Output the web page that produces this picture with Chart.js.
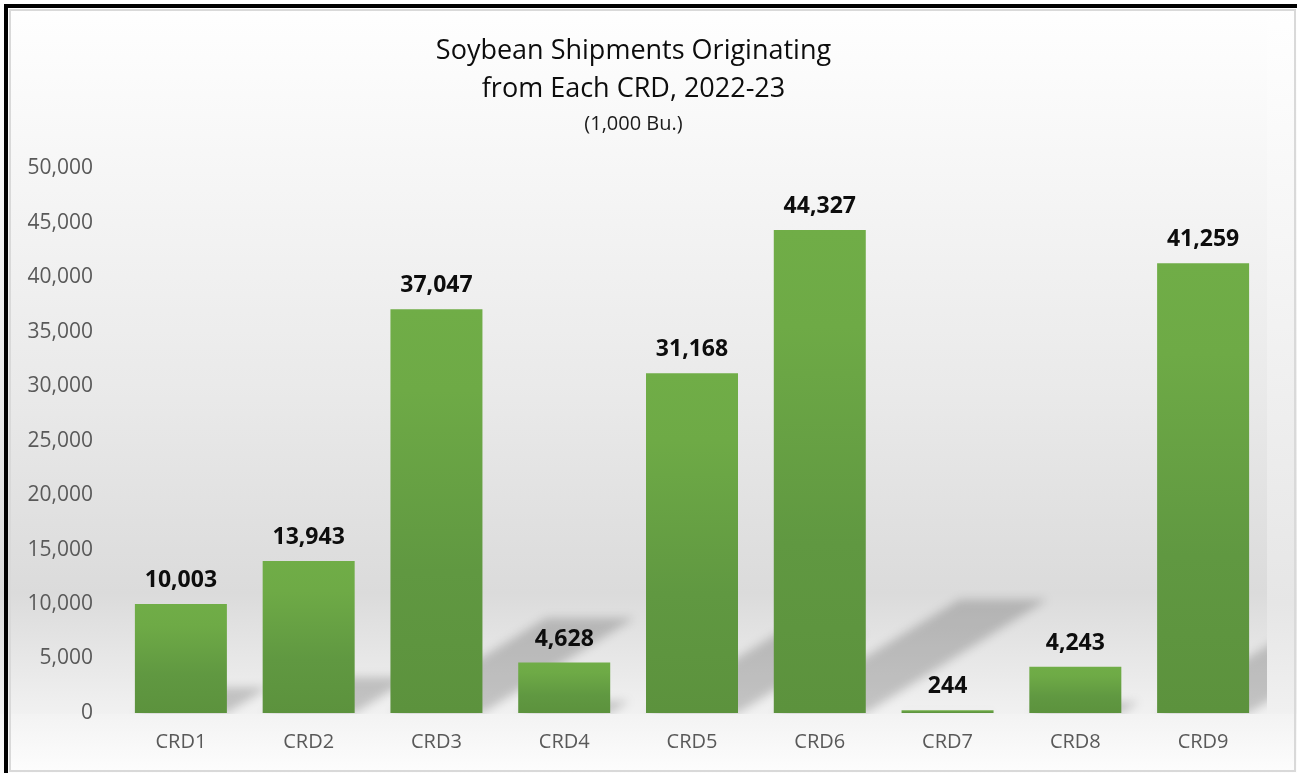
<!DOCTYPE html>
<html>
<head>
<meta charset="utf-8">
<script src="https://cdn.jsdelivr.net/npm/chart.js@4/dist/chart.umd.min.js"></script>
<style>
  body { margin: 0; background: #fff; }
</style>
</head>
<body>
<canvas id="myChart" width="1297" height="773"></canvas>
<script>
var categories = ['CRD1', 'CRD2', 'CRD3', 'CRD4', 'CRD5', 'CRD6', 'CRD7', 'CRD8', 'CRD9'];
var shipments = [10003, 13943, 37047, 4628, 31168, 44327, 244, 4243, 41259];
var yMax = 50000;
var yStep = 5000;

var titleLines = ['Soybean Shipments Originating', 'from Each CRD, 2022-23'];
var unitsLine = '(1,000 Bu.)';

function fmt(v) {
  return Number(v).toLocaleString('en-US');
}

// page background + frame
var backdrop = {
  id: 'backdrop',
  beforeDraw: function (chart) {
    var ctx = chart.ctx, W = chart.width, H = chart.height;
    var plotRight = chart.chartArea.right, plotBottom = chart.chartArea.bottom + 1;
    ctx.save();
    var outer = ctx.createLinearGradient(0, 0, 0, H);
    outer.addColorStop(0, '#ffffff');
    outer.addColorStop(0.3, '#f6f6f6');
    outer.addColorStop(0.78, '#e6e6e6');
    outer.addColorStop(0.92, '#f0f0f0');
    outer.addColorStop(1, '#ffffff');
    ctx.fillStyle = outer;
    ctx.fillRect(0, 0, W, H);

    var inner = ctx.createLinearGradient(0, 0, 0, plotBottom);
    inner.addColorStop(0, '#ffffff');
    inner.addColorStop(0.24, '#f6f6f6');
    inner.addColorStop(0.56, '#e9e9e9');
    inner.addColorStop(0.83, '#dbdbdb');
    inner.addColorStop(1, '#f1f1f1');
    ctx.fillStyle = inner;
    ctx.fillRect(0, 0, plotRight, plotBottom);

    var below = ctx.createLinearGradient(0, plotBottom, 0, H);
    below.addColorStop(0, '#f3f3f3');
    below.addColorStop(1, '#fdfdfd');
    ctx.fillStyle = below;
    ctx.fillRect(0, plotBottom, W, H - plotBottom);

    ctx.strokeStyle = '#d9d9d9';
    ctx.lineWidth = 2;
    ctx.strokeRect(10, 10, W - 12, H - 12);
    ctx.fillStyle = '#000';
    ctx.fillRect(4, 4, W - 4, 4);
    ctx.fillRect(4, 4, 4, H - 4);
    ctx.restore();
  }
};

// slanted soft shadows falling behind the bars
var barShadows = {
  id: 'barShadows',
  beforeDatasetsDraw: function (chart) {
    var ctx = chart.ctx, area = chart.chartArea;
    var meta = chart.getDatasetMeta(0);
    ctx.save();
    ctx.beginPath();
    ctx.rect(area.left, area.top, area.right - area.left, area.bottom - area.top + 1);
    ctx.clip();
    ctx.filter = 'blur(5px)';
    ctx.fillStyle = 'rgba(0,0,0,0.19)';
    meta.data.forEach(function (bar) {
      var p = bar.getProps(['x', 'y', 'base', 'width'], true);
      var h = p.base - p.y;
      var sh = h * 0.235;
      var dx = sh * 1.6;
      var l = p.x - p.width / 2, r = p.x + p.width / 2;
      ctx.beginPath();
      ctx.moveTo(l, p.base);
      ctx.lineTo(r, p.base);
      ctx.lineTo(r + dx, p.base - sh);
      ctx.lineTo(l + dx + 4, p.base - sh);
      ctx.closePath();
      ctx.fill();
    });
    ctx.restore();
  }
};

// bold value above each bar
var valueLabels = {
  id: 'valueLabels',
  afterDatasetsDraw: function (chart) {
    var ctx = chart.ctx;
    var meta = chart.getDatasetMeta(0);
    ctx.save();
    ctx.font = 'bold 23px "Open Sans"';
    ctx.fillStyle = '#0d0d0d';
    ctx.textAlign = 'center';
    ctx.textBaseline = 'alphabetic';
    meta.data.forEach(function (bar, i) {
      ctx.fillText(fmt(shipments[i]), bar.x, bar.y - 17);
    });
    ctx.restore();
  }
};

function barFill(context) {
  var chart = context.chart;
  if (!chart.chartArea) return '#68a244';
  var y = chart.scales.y;
  var top = y.getPixelForValue(context.raw);
  var bottom = y.getPixelForValue(0);
  if (bottom - top < 1) top = bottom - 1;
  var g = chart.ctx.createLinearGradient(0, top, 0, bottom);
  g.addColorStop(0, '#70ad47');
  g.addColorStop(0.2, '#6eaa46');
  g.addColorStop(0.65, '#609841');
  g.addColorStop(1, '#5c923d');
  return g;
}

function renderChart() {
  var ctx = document.getElementById('myChart').getContext('2d');
  new Chart(ctx, {
    type: 'bar',
    data: {
      labels: categories,
      datasets: [{
        label: 'Shipments',
        data: shipments,
        backgroundColor: barFill,
        borderWidth: 0,
        barPercentage: 0.9,
        categoryPercentage: 0.8
      }]
    },
    options: {
      responsive: false,
      animation: false,
      layout: { padding: { left: 0, right: 30, top: 0, bottom: 0 } },
      plugins: {
        legend: { display: false },
        tooltip: { enabled: false },
        title: {
          display: true,
          text: titleLines,
          color: '#0d0d0d',
          font: { family: 'Open Sans', size: 27, weight: 'normal', lineHeight: 1.39 },
          padding: { top: 33, bottom: 2 }
        },
        subtitle: {
          display: true,
          text: unitsLine,
          color: '#1a1a1a',
          font: { family: 'Open Sans', size: 20, lineHeight: 1.2 },
          padding: { top: 2, bottom: 32 }
        }
      },
      scales: {
        x: {
          grid: { display: false, drawTicks: false },
          border: { display: false },
          ticks: {
            color: '#595959',
            font: { family: 'Open Sans', size: 20 },
            padding: 17
          },
          afterFit: function (scale) { scale.height = 60; }
        },
        y: {
          min: 0,
          max: yMax,
          grid: { display: false, drawTicks: false },
          border: { display: false },
          ticks: {
            stepSize: yStep,
            color: '#595959',
            font: { family: 'Open Sans', size: 21 },
            padding: 24,
            callback: function (v) { return fmt(v); }
          },
          afterFit: function (scale) { scale.width = 117; }
        }
      }
    },
    plugins: [backdrop, barShadows, valueLabels]
  });
}

document.fonts.load('27px "Open Sans"').then(function () {
  return document.fonts.load('bold 23px "Open Sans"');
}).then(renderChart, renderChart);
</script>
</body>
</html>
